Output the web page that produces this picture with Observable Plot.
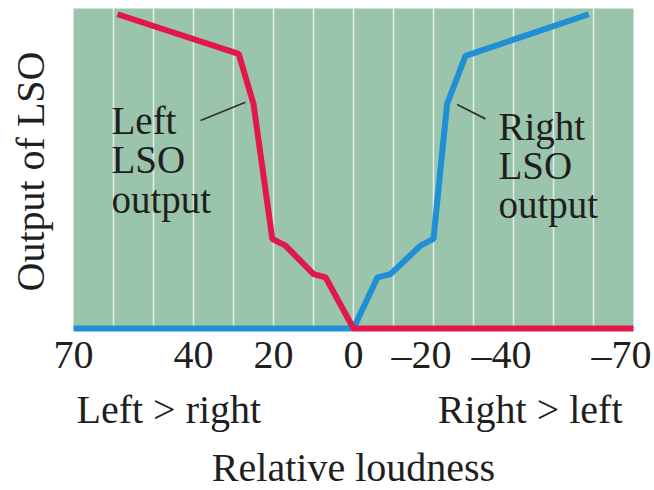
<!DOCTYPE html>
<html>
<head>
<meta charset="utf-8">
<script src="https://cdn.jsdelivr.net/npm/d3@7"></script>
<script src="https://cdn.jsdelivr.net/npm/@observablehq/plot@0.6"></script>
<style>
  html, body { margin: 0; padding: 0; background: #fff; }
</style>
</head>
<body>
<div id="chart"></div>
<script>
// Relative loudness (left − right, dB-like units) and LSO output (arbitrary 0–100)
const leftLsoX  = [59, 28.7, 25, 20.3, 17, 10, 7, 0, -70];
const leftLsoY  = [98.2, 85.8, 70.2, 28, 25.9, 17, 16, 0, 0];
const rightLsoX = [70, 0, -6, -9.25, -16.75, -20, -23.4, -28, -58.8];
const rightLsoY = [0, 0, 16, 17, 25.9, 28, 70.2, 85.2, 98.2];

const tickLabelsPositive = [70, 40, 20, 0];
const tickLabelsNegative = [-20, -40, -70];
const gridValues = [60, 50, 40, 30, 20, 10, 0, -10, -20, -30, -40, -50, -60];

const seriesLabels = [
  {x: 60.5, y: 36.25, text: "Left\nLSO\noutput"},
  {x: -36.25, y: 34.4, text: "Right\nLSO\noutput"}
];
const leaders = [
  {x1: 38.25, y1: 65, x2: 27, y2: 70.7},
  {x1: -25.9, y1: 70, x2: -33, y2: 65.5}
];

const leftData = leftLsoX.map((x, i) => ({x, y: leftLsoY[i]}));
const rightData = rightLsoX.map((x, i) => ({x, y: rightLsoY[i]}));

const fmt = d => d < 0 ? "\u2013" + (-d) : String(d);
const ink = "#1f1f1f";
const font = 40;

const chart = Plot.plot({
  width: 654,
  height: 490,
  marginTop: 8,
  marginLeft: 73,
  marginRight: 21,
  marginBottom: 162,
  x: {domain: [70, -70], axis: null, label: null},
  y: {domain: [0, 100], axis: null, label: null},
  style: {fontFamily: "'Liberation Serif', 'DejaVu Serif', serif", background: "#fff", color: ink},
  marks: [
    Plot.frame({fill: "#9bc4ac", stroke: "none"}),
    Plot.ruleX(gridValues, {stroke: "#eaf4ee", strokeWidth: 1.6, strokeOpacity: 0.85}),
    Plot.line(rightData, {x: "x", y: "y", stroke: "#1f8fd6", strokeWidth: 6, strokeLinejoin: "miter", strokeLinecap: "butt"}),
    Plot.line(leftData, {x: "x", y: "y", stroke: "#e2184b", strokeWidth: 6, strokeLinejoin: "miter", strokeLinecap: "butt"}),
    Plot.link(leaders, {x1: "x1", y1: "y1", x2: "x2", y2: "y2", stroke: "#333", strokeWidth: 1.8}),
    Plot.text(seriesLabels, {x: "x", y: "y", text: "text", textAnchor: "start", lineAnchor: "bottom", lineHeight: 1.01, fontSize: 39, fill: ink}),
    Plot.axisX(tickLabelsPositive, {anchor: "bottom", tickSize: 0, tickPadding: 11, tickFormat: fmt, fontSize: font, label: null, fill: ink}),
    Plot.axisX(tickLabelsNegative, {anchor: "bottom", tickSize: 0, tickPadding: 11, tickFormat: fmt, fontSize: font, label: null, dx: -12, fill: ink}),
    Plot.text(["Left > right"], {frameAnchor: "bottom-left", textAnchor: "start", lineAnchor: "bottom", dx: 3, dy: 94, fontSize: font, fill: ink}),
    Plot.text(["Right > left"], {frameAnchor: "bottom-right", textAnchor: "end", lineAnchor: "bottom", dx: -11, dy: 94, fontSize: font, fill: ink}),
    Plot.text(["Relative loudness"], {frameAnchor: "bottom", textAnchor: "middle", lineAnchor: "bottom", dy: 152, fontSize: font, fill: ink}),
    Plot.text(["Output of LSO"], {frameAnchor: "left", textAnchor: "middle", lineAnchor: "bottom", rotate: -90, dx: -30, dy: 3, fontSize: font, fill: ink})
  ]
});
document.getElementById("chart").appendChild(chart);
</script>
</body>
</html>
